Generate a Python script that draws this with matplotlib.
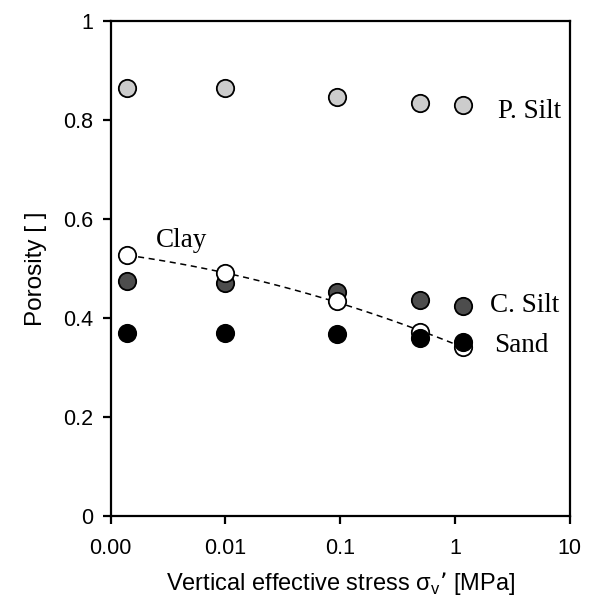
import numpy as np
import matplotlib
matplotlib.use("Agg")
import matplotlib.pyplot as plt

# Vertical effective stress steps [MPa]
stress = [0.0014, 0.01, 0.093, 0.5, 1.17]

# Porosity per sediment type
p_silt = [0.864, 0.864, 0.847, 0.834, 0.830]
c_silt = [0.475, 0.470, 0.452, 0.436, 0.425]
sand = [0.369, 0.369, 0.367, 0.360, 0.352]
clay = [0.527, 0.490, 0.434, 0.372, 0.342]

x_ticks = [0.001, 0.01, 0.1, 1, 10]
x_tick_labels = ["0.00", "0.01", "0.1", "1", "10"]
y_ticks = [0, 0.2, 0.4, 0.6, 0.8, 1.0]
y_tick_labels = ["0", "0.2", "0.4", "0.6", "0.8", "1"]

fig = plt.figure(figsize=(6.0, 5.98), dpi=100)
ax = fig.add_axes([0.1845, 0.137, 0.765, 0.828])

ax.set_xscale("log")
ax.set_xlim(0.001, 10)
ax.set_ylim(0, 1)

mk = dict(marker="o", linestyle="none", markersize=12.5,
          markeredgecolor="black", markeredgewidth=1.3, zorder=3)

# Trend through the clay data (quadratic in log stress)
coef = np.polyfit(np.log10(stress), clay, 2)
xs = np.logspace(np.log10(stress[0]), np.log10(stress[-1]), 100)
ax.plot(xs, np.polyval(coef, np.log10(xs)), linestyle=(0, (4, 3)),
        color="black", linewidth=1.1, zorder=2)

ax.plot(stress, p_silt, markerfacecolor="#cccccc", **mk)
ax.plot(stress, c_silt, markerfacecolor="#4d4d4d", **mk)
ax.plot(stress, clay, markerfacecolor="white", **mk)
ax.plot(stress, sand, markerfacecolor="black", **mk)

serif = dict(family="Liberation Serif", fontsize=19.5, color="black")
ax.text(0.00248, 0.543, "Clay", ha="left", va="baseline", **serif)
ax.text(2.35, 0.818, "P. Silt", ha="left", va="center", **serif)
ax.text(2.04, 0.425, "C. Silt", ha="left", va="center", **serif)
ax.text(2.21, 0.344, "Sand", ha="left", va="center", **serif)

ax.set_xticks(x_ticks)
ax.set_xticklabels(x_tick_labels)
ax.xaxis.set_minor_locator(matplotlib.ticker.NullLocator())
ax.set_yticks(y_ticks)
ax.set_yticklabels(y_tick_labels)

for s in ax.spines.values():
    s.set_linewidth(1.6)
ax.tick_params(direction="out", length=5.5, width=1.6, labelsize=15.5,
               pad=10, labelfontfamily="Liberation Sans")
ax.tick_params(axis="y", pad=7)

ax.set_xlabel("Vertical effective stress \u03c3$_{\\mathregular{v}}$\u2019 [MPa]",
              fontsize=17, family="Liberation Sans", labelpad=8)
ax.set_ylabel("Porosity [ ]", fontsize=17.5, family="Liberation Sans",
              labelpad=12)

fig.savefig("out.png", dpi=100)
